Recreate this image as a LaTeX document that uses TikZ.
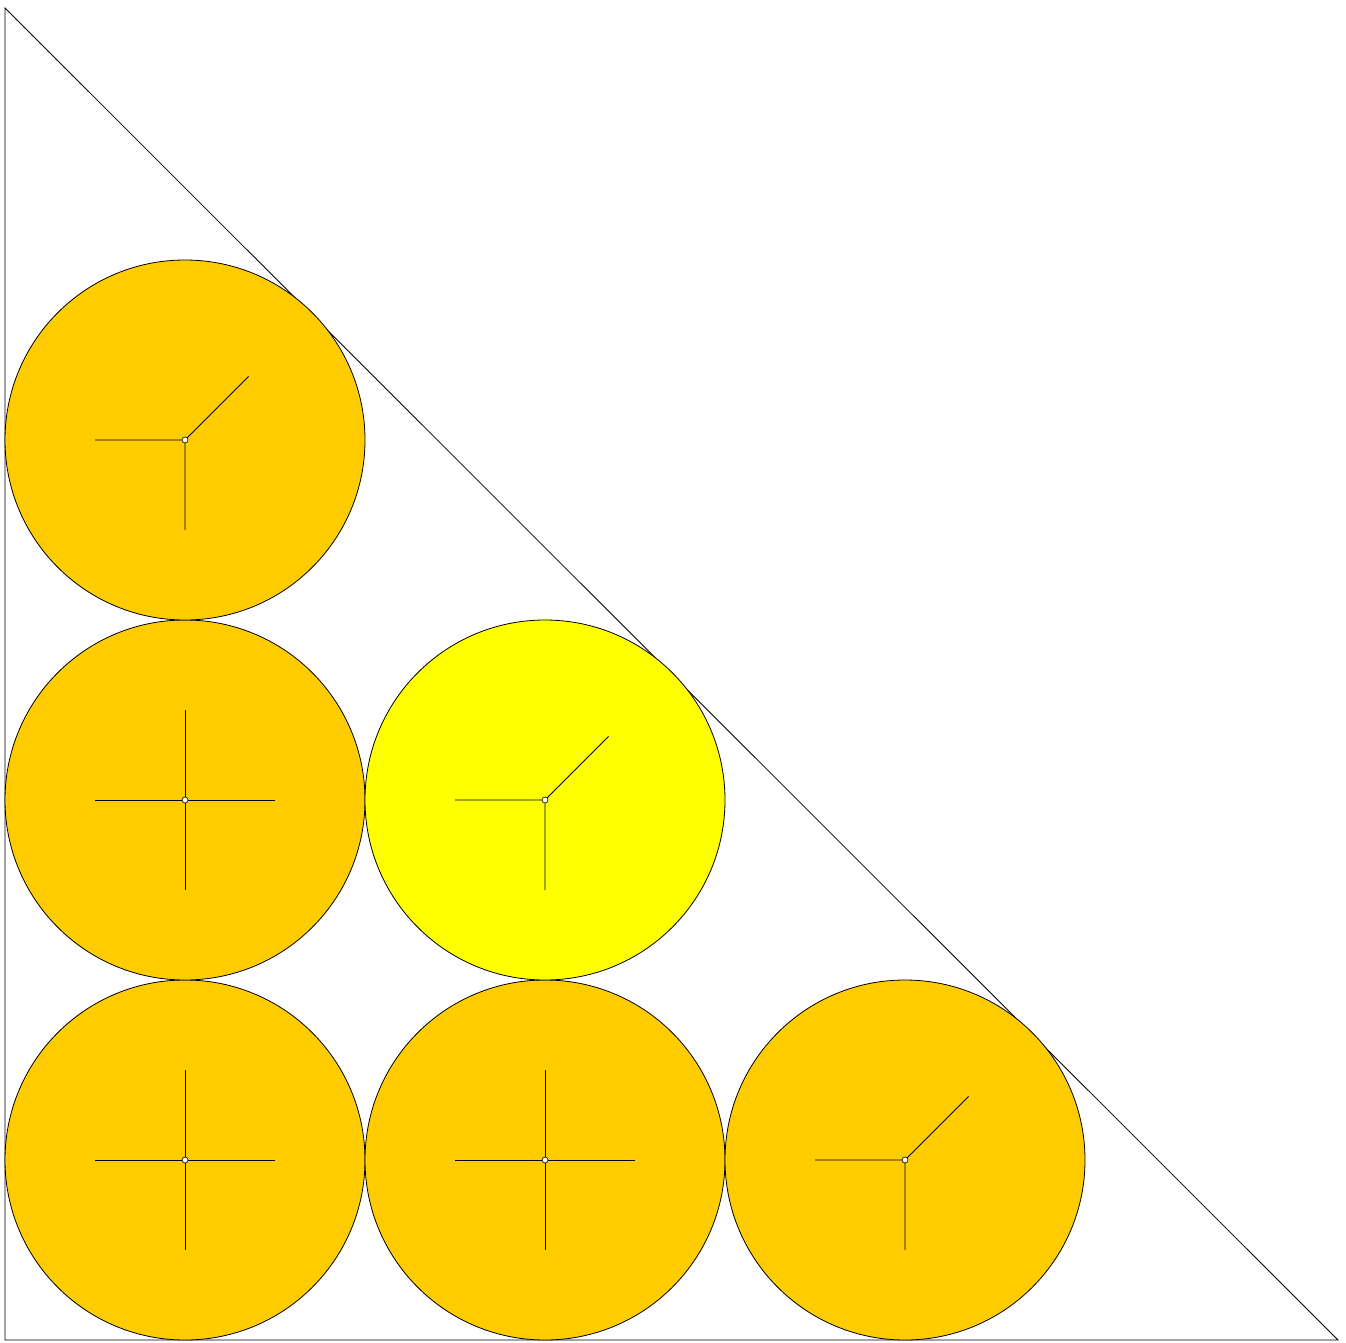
\documentclass[tikz,border=0pt]{standalone}
\definecolor{gold}{RGB}{255,204,0}
\definecolor{brightyellow}{RGB}{255,255,0}
\begin{document}
\begin{tikzpicture}[x=1pt,y=-1pt,
  ball/.style={draw=black,line width=0.8pt,fill=#1},
  spoke/.style={draw=black,line width=0.8pt},
  hub/.style={circle,draw=black,fill=white,inner sep=0pt,minimum size=6pt,line width=0.6pt}]
\useasboundingbox (0,0) rectangle (1346,1343);
\draw[line width=0.8pt] (5,8) coordinate (A) -- (5,1340) coordinate (B) -- (1338,1340) coordinate (C) -- cycle;
% cross circles
\foreach \n/\x/\y in {c1/185/1160,c2/545/1160,c4/185/800}{
  \path[ball=gold] (\x,\y) circle (180);
  \draw[spoke] (\x-90,\y) -- (\x+90,\y) (\x,\y-90) -- (\x,\y+90);
  \node[hub] (\n) at (\x,\y) {};
}
% Y circles
\foreach \n/\x/\y/\c in {c3/905/1160/gold,c6/185/440/gold,c5/545/800/brightyellow}{
  \path[ball=\c] (\x,\y) circle (180);
  \draw[spoke] (\x-90,\y) -- (\x,\y) -- (\x,\y+90) (\x,\y) -- (\x+63.6,\y-63.6);
  \node[hub] (\n) at (\x,\y) {};
}
\end{tikzpicture}
\end{document}
